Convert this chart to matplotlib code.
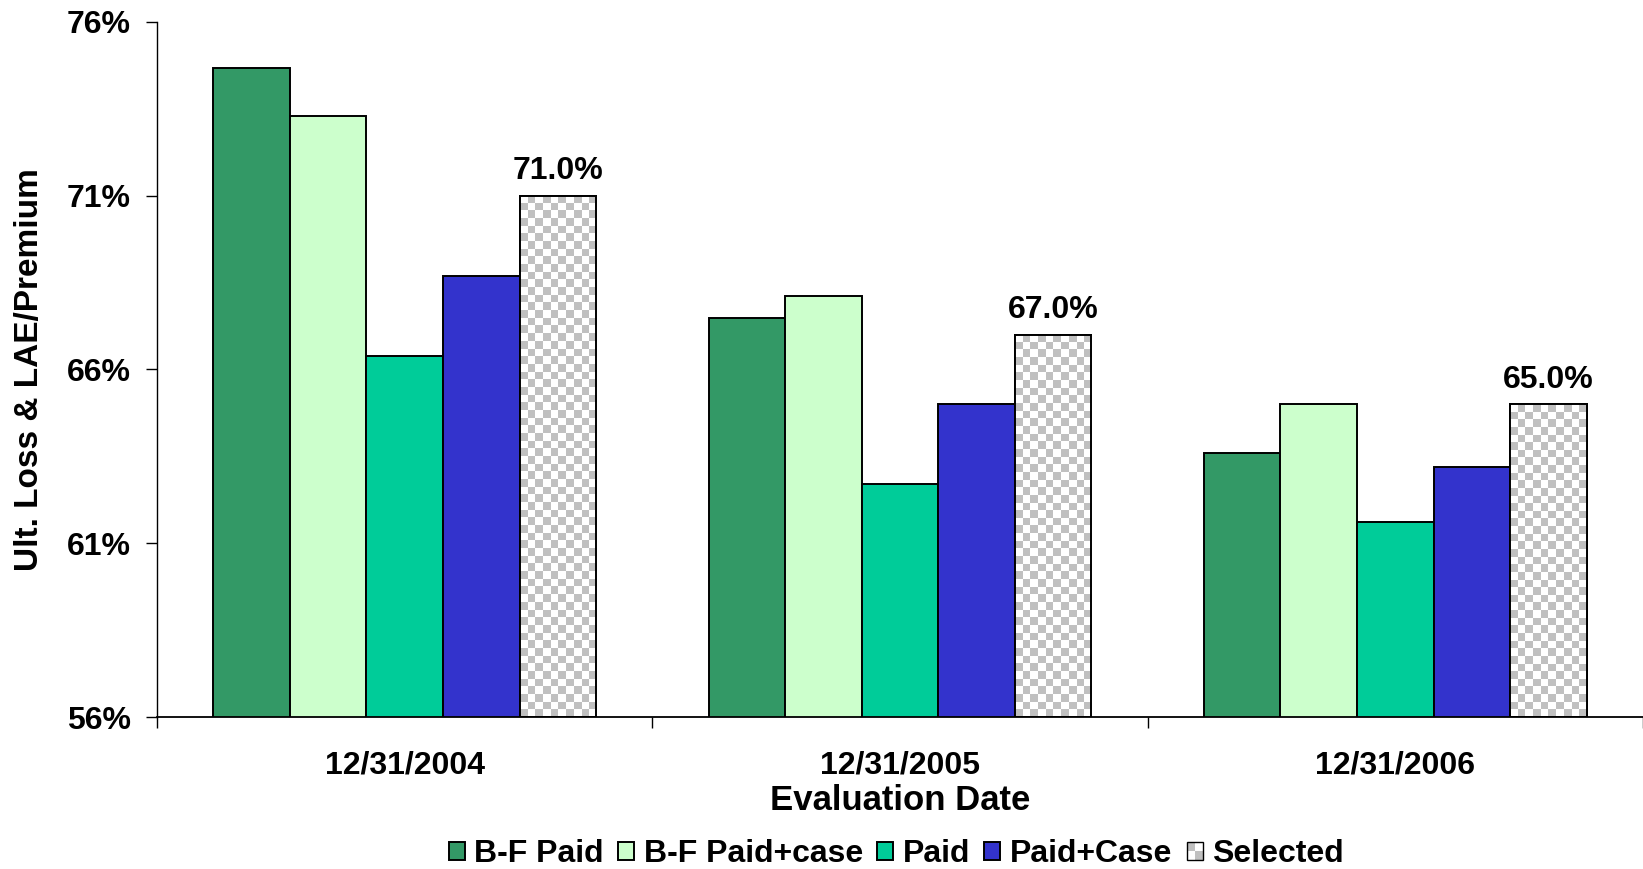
# -*- coding: utf-8 -*-

import numpy as np
import matplotlib
matplotlib.use('Agg')
import matplotlib.pyplot as plt
from matplotlib.patches import Rectangle
from matplotlib.colors import ListedColormap
from matplotlib.legend_handler import HandlerBase

plt.rcParams['font.family'] = ['Liberation Sans', 'DejaVu Sans']
plt.rcParams['font.weight'] = 'bold'

dates = ['12/31/2004', '12/31/2005', '12/31/2006']
methods = ['B-F Paid', 'B-F Paid+case', 'Paid', 'Paid+Case', 'Selected']
bf_paid = [74.68, 67.47, 63.60]
bf_paid_case = [73.30, 68.12, 65.02]
paid = [66.38, 62.70, 61.60]
paid_case = [68.70, 65.01, 63.19]
selected = [71.0, 67.0, 65.0]
yticks = [56, 61, 66, 71, 76]

colors = ['#339966', '#CCFFCC', '#00CC99', '#3333CC', 'white']
series = [bf_paid, bf_paid_case, paid, paid_case, selected]
ymin, ymax = 56, 76

fig = plt.figure(figsize=(16.43, 8.69), dpi=100)
ax = fig.add_axes([0.0956, 0.1749, 0.9044, 0.7998])

x = np.arange(len(dates))
group = 0.773
width = group / len(methods)
bars = []
for i, (vals, col) in enumerate(zip(series, colors)):
    b = ax.bar(x - group/2 + width*(i+0.5), vals, width,
               color=col, edgecolor='black', linewidth=1.4, label=methods[i], zorder=2)
    bars.append(b)

ax.set_xlim(-0.5, 2.5)
ax.set_ylim(ymin, ymax)

# grey/white checkerboard inside the selected bars, ~7.7 px cells
cell = 7.7
checker = ListedColormap(['white', '#C0C0C0'])
for rect in bars[-1]:
    x0 = rect.get_x()
    x1 = x0 + rect.get_width()
    top = rect.get_height()
    (px0, py0), (px1, py1) = ax.transData.transform([(x0, ymin), (x1, top)])
    nx = max(2, int(round((px1 - px0) / cell)))
    ny = max(2, int(round((py1 - py0) / cell)))
    board = (np.add.outer(np.arange(ny), np.arange(nx)) % 2).astype(float)
    im = ax.imshow(board, cmap=checker, extent=[x0, x1, ymin, top], origin='upper',
                   interpolation='nearest', aspect='auto', zorder=2.5)
    im.set_clip_path(rect)
    ax.add_patch(Rectangle((x0, ymin), rect.get_width(), top - ymin, fill=False,
                           edgecolor='black', linewidth=1.4, zorder=3))
    ax.annotate('%.1f%%' % top, (x0 + rect.get_width()/2, top),
                xytext=(0, 7), textcoords='offset points', ha='center', va='bottom',
                fontsize=23, fontweight='bold')

ax.set_xlim(-0.5, 2.5)
ax.set_ylim(ymin, ymax)

ax.set_yticks(yticks)
ax.set_yticklabels(['%d%%' % t for t in yticks])
ax.tick_params(axis='y', direction='out', length=8, width=1, pad=11, labelsize=23)
ax.set_xticks(x)
ax.set_xticklabels(dates)
ax.set_xticks([-0.5, 0.5, 1.5, 2.5], minor=True)
ax.tick_params(axis='x', which='major', length=0, pad=24, labelsize=23)
ax.tick_params(axis='x', which='minor', direction='out', length=8, width=1)

for s in ['top', 'right']:
    ax.spines[s].set_visible(False)
ax.spines['left'].set_linewidth(1)
ax.spines['bottom'].set_linewidth(1.3)

ax.set_ylabel('Ult. Loss & LAE/Premium', fontsize=24, fontweight='bold')
ax.yaxis.set_label_coords(-0.0755, 0.5)
ax.set_xlabel('Evaluation Date', fontsize=25, fontweight='bold')
ax.xaxis.set_label_coords(0.5, -0.097)


class CheckerHandler(HandlerBase):
    def create_artists(self, legend, orig_handle, xdescent, ydescent, width, height, fontsize, trans):
        arts = [Rectangle((-xdescent, -ydescent), width, height, facecolor='white',
                          edgecolor='none', transform=trans)]
        for (i, j) in [(0, 1), (1, 0)]:
            arts.append(Rectangle((-xdescent + i*width/2, -ydescent + j*height/2), width/2, height/2,
                                  facecolor='#C0C0C0', edgecolor='none', transform=trans))
        arts.append(Rectangle((-xdescent, -ydescent), width, height, fill=False,
                              edgecolor='black', linewidth=1, transform=trans))
        return arts


handles = [b.patches[0] for b in bars]
leg = fig.legend(handles, methods, loc='center', bbox_to_anchor=(0.5455, 1 - 854/869),
                 ncol=5, frameon=False, fontsize=23, handlelength=0.5, handleheight=0.5,
                 handletextpad=0.3, columnspacing=0.45, borderaxespad=0,
                 handler_map={handles[-1]: CheckerHandler()})

fig.savefig('out.png', dpi=100)
